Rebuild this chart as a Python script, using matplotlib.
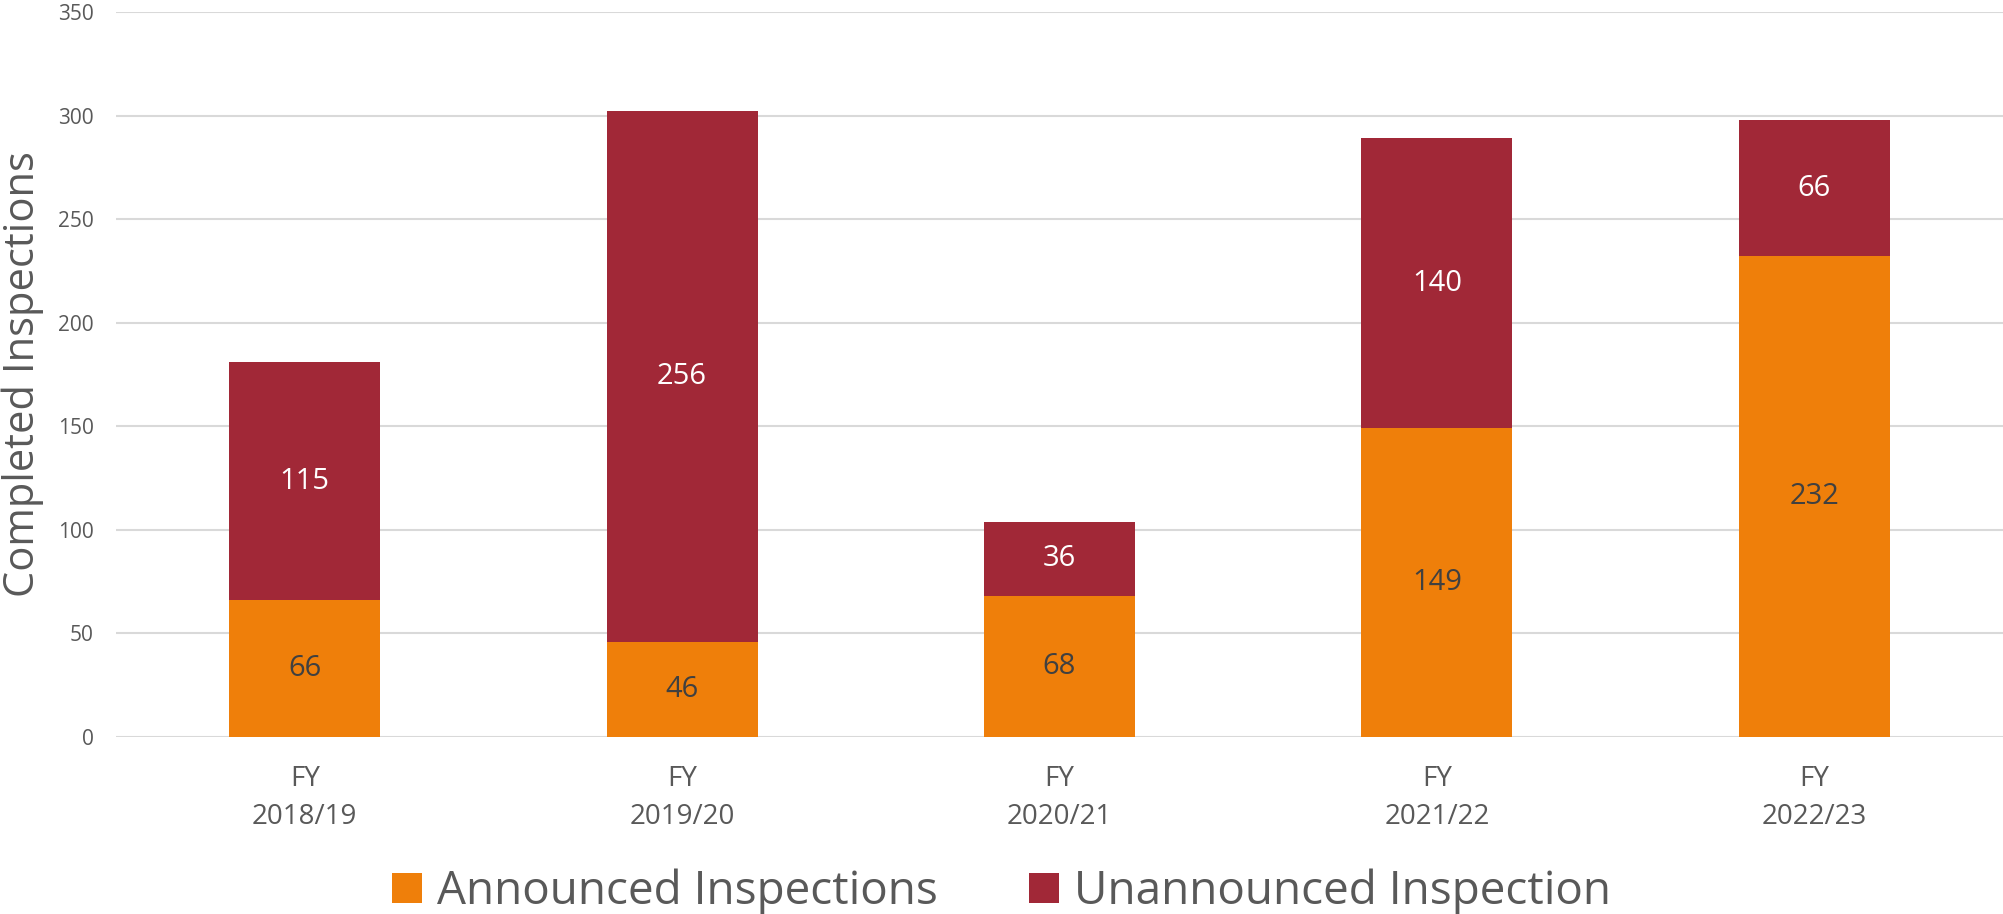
import matplotlib
matplotlib.use("Agg")
import matplotlib.pyplot as plt
import numpy as np

categories = ["FY\n2018/19", "FY\n2019/20", "FY\n2020/21", "FY\n2021/22", "FY\n2022/23"]
announced = [66, 46, 68, 149, 232]
unannounced = [115, 256, 36, 140, 66]
yticks = [0, 50, 100, 150, 200, 250, 300, 350]

plt.rcParams['font.family'] = ['Open Sans', 'DejaVu Sans']
GRAY = '#595959'
ORANGE = '#EF7F0A'
RED = '#A12837'

fig = plt.figure(figsize=(20.03, 9.14), dpi=100)
ax = fig.add_axes([116/2003, 1-737/914, 1-116/2003, (737-12)/914])

x = np.arange(len(categories))
b1 = ax.bar(x, announced, width=0.4, color=ORANGE, label='Announced Inspections', zorder=3)
b2 = ax.bar(x, unannounced, width=0.4, bottom=announced, color=RED, label='Unannounced Inspection', zorder=3)

for rect, v in zip(b1, announced):
    ax.text(rect.get_x()+rect.get_width()/2, rect.get_y()+rect.get_height()/2, str(v),
            ha='center', va='center', fontsize=21, color='#404040', zorder=4)
for rect, v in zip(b2, unannounced):
    ax.text(rect.get_x()+rect.get_width()/2, rect.get_y()+rect.get_height()/2, str(v),
            ha='center', va='center', fontsize=21, color='white', zorder=4)

ax.set_xlim(-0.5, len(categories)-0.5)
ax.set_ylim(0, 350)
ax.set_yticks(yticks)
ax.set_yticklabels([str(t) for t in yticks], fontsize=15, color=GRAY)
ax.set_xticks(x)
ax.set_xticklabels(categories, fontsize=20, color=GRAY, linespacing=1.5)
ax.tick_params(axis='y', length=0, pad=16)
ax.tick_params(axis='x', length=0, pad=20)
for s in ax.spines.values():
    s.set_visible(False)
ax.grid(axis='y', color='#D9D9D9', linewidth=1.5, zorder=0)
ax.set_axisbelow(True)

fig.text(23/2003, 1-374/914, 'Completed Inspections', rotation=90, ha='center', va='center',
         fontsize=30, color=GRAY)

fig.legend(handles=[b1, b2], loc='center', bbox_to_anchor=(0.5, 1-892/914), ncol=2, frameon=False,
           fontsize=33, labelcolor=GRAY, handlelength=0.65, handleheight=0.65,
           handletextpad=0.33, columnspacing=2.0, borderpad=0, borderaxespad=0)

fig.savefig('out.png', dpi=100)
